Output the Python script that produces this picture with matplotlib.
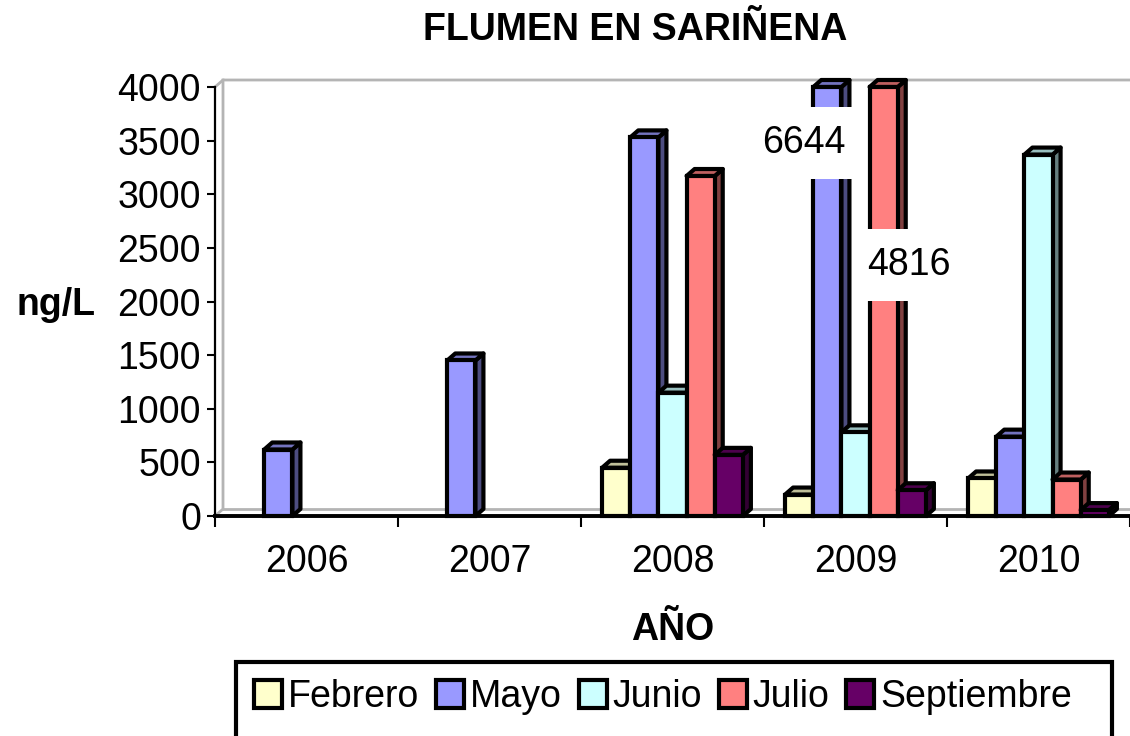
import matplotlib
matplotlib.use("Agg")
import matplotlib.pyplot as plt
from matplotlib.patches import Polygon, Rectangle, Patch
import matplotlib.colors as mcolors
import numpy as np

plt.rcParams['font.family'] = ['Liberation Sans', 'DejaVu Sans']

YEARS = ["2006", "2007", "2008", "2009", "2010"]
MONTHS = ["Febrero", "Mayo", "Junio", "Julio", "Septiembre"]
COLORS = ["#FFFFCC", "#9999FF", "#CCFFFF", "#FF8080", "#660066"]

# ng/L per month, one list per series (nan = no sample)
febrero = [np.nan, np.nan, 450, 200, 350]
mayo = [620, 1450, 3530, 6644, 740]
junio = [np.nan, np.nan, 1150, 780, 3370]
julio = [np.nan, np.nan, 3170, 4816, 340]
septiembre = [np.nan, np.nan, 570, 240, 55]
SERIES = [febrero, mayo, junio, julio, septiembre]

Y_MAX = 4000
Y_TICKS = np.arange(0, 4001, 500)
BROKEN_LABEL_Y = {(1, 3): 3480, (3, 3): 2340}   # label heights for bars cut at 4000

FS = 27
W, H = 1130, 736
fig = plt.figure(figsize=(W / 100, H / 100), dpi=100)
ax = fig.add_axes([215 / W, (H - 516) / H, (1130 - 215) / W, (516 - 87) / H])
ax.set_xlim(-0.5, 4.5)
ax.set_ylim(0, Y_MAX)

# depth of the fake 3d, pixels -> data units
DX_PX, DY_PX = 8, 7
dx = DX_PX * 5.0 / (1130 - 215)
dy = DY_PX * Y_MAX / (516 - 87)

# back wall and floor
wall = dict(color="#b4b4b4", lw=2, clip_on=False, zorder=1)
ax.plot([-0.5, -0.5 + dx, -0.5 + dx], [0, dy, Y_MAX + dy], **wall)
ax.plot([-0.5, -0.5 + dx, 4.5], [Y_MAX, Y_MAX + dy, Y_MAX + dy], **wall)
ax.plot([-0.5 + dx, 4.5], [dy, dy], **wall)

bw = 1 / 6.5
EDGE = 3.0


def shade(c, f):
    r, g, b = mcolors.to_rgb(c)
    return (r * f, g * f, b * f)


z = 3
for gi in range(len(YEARS)):
    for si, vals in enumerate(SERIES):
        v = vals[gi]
        if np.isnan(v):
            continue
        h = min(v, Y_MAX)
        xc = gi + (si - 2) * bw
        xl, xr = xc - bw / 2, xc + bw / 2
        col = COLORS[si]
        side = Polygon([(xr, 0), (xr + dx, dy), (xr + dx, h + dy), (xr, h)],
                       closed=True, fc=shade(col, 0.5), ec="black", lw=EDGE,
                       joinstyle="round", clip_on=False, zorder=z)
        top = Polygon([(xl, h), (xl + dx, h + dy), (xr + dx, h + dy), (xr, h)],
                      closed=True, fc=shade(col, 0.75), ec="black", lw=EDGE,
                      joinstyle="round", clip_on=False, zorder=z)
        ax.add_patch(side)
        ax.add_patch(top)
        ax.bar(xc, h, width=bw, color=col, edgecolor="black", linewidth=EDGE,
               clip_on=False, zorder=z + 0.5)
        z += 1
        if v > Y_MAX:
            ly = BROKEN_LABEL_Y[(si, gi)]
            half = 36 * Y_MAX / (516 - 87)
            ax.add_patch(Rectangle((xl - 0.02, ly - half), bw + dx + 0.04, 2 * half,
                                   fc="white", ec="none", zorder=200, clip_on=False))
            if si == 1:
                ax.text(xr + dx - 0.02, ly, f"{v:.0f}", ha="right", va="center",
                        fontsize=FS, zorder=201)
            else:
                ax.text(xc + 0.14, ly, f"{v:.0f}", ha="center", va="center",
                        fontsize=FS, zorder=201)

# axes
for s in ["top", "right"]:
    ax.spines[s].set_visible(False)
ax.spines["left"].set_linewidth(1.6)
ax.spines["bottom"].set_linewidth(2.8)
ax.spines["bottom"].set_zorder(150)
ax.set_yticks(Y_TICKS)
ax.set_yticklabels([str(t) for t in Y_TICKS], fontsize=FS)
ax.tick_params(axis="y", length=6, width=1.5, pad=4)
ax.set_xticks(range(len(YEARS)))
ax.set_xticklabels(YEARS, fontsize=FS)
ax.tick_params(axis="x", which="major", length=0, pad=20)
ax.set_xticks(np.arange(-0.5, 4.6, 1), minor=True)
ax.tick_params(axis="x", which="minor", length=8, width=1.5)
ax.patch.set_alpha(0)

fig.text(635 / W, 1 - 30 / H, "FLUMEN EN SARIÑENA", ha="center", va="center",
         fontsize=FS, fontweight="bold")
fig.text(56 / W, 1 - 305 / H, "ng/L", ha="center", va="center",
         fontsize=FS, fontweight="bold")
fig.text(673 / W, 1 - 630 / H, "AÑO", ha="center", va="center",
         fontsize=FS, fontweight="bold")

# legend box
fig.patches.append(Rectangle((236 / W, -10 / H), (1112 - 236) / W, (H - 662 + 10) / H,
                             transform=fig.transFigure, fc="white", ec="black", lw=3))
handles = [Patch(fc=c, ec="black", lw=3) for c in COLORS]
fig.legend(handles, MONTHS, loc="center", bbox_to_anchor=(663 / W, 1 - 697 / H),
           ncol=5, frameon=False, fontsize=FS, handlelength=0.75, handleheight=0.75,
           handletextpad=0.15, columnspacing=0.45, borderpad=0)

fig.savefig("out.png", dpi=100)
